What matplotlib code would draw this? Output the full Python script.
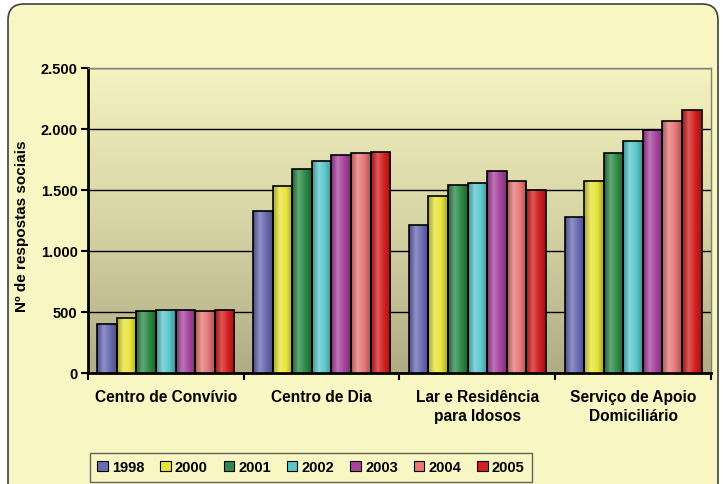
import numpy as np
import matplotlib.pyplot as plt
from matplotlib.colors import LinearSegmentedColormap, to_rgb
from matplotlib.patches import FancyBboxPatch, Patch

plt.rcParams['font.family'] = ['Liberation Sans', 'DejaVu Sans']

# dados
categorias = ["Centro de Convívio", "Centro de Dia",
              "Lar e Residência\npara Idosos", "Serviço de Apoio\nDomiciliário"]
anos = ["1998", "2000", "2001", "2002", "2003", "2004", "2005"]
v1998 = [405, 1326, 1209, 1280]
v2000 = [453, 1532, 1453, 1570]
v2001 = [508, 1671, 1543, 1801]
v2002 = [519, 1738, 1557, 1901]
v2003 = [519, 1787, 1652, 1994]
v2004 = [508, 1799, 1570, 2062]
v2005 = [519, 1809, 1500, 2154]
series = [v1998, v2000, v2001, v2002, v2003, v2004, v2005]
cores = ["#6B6BB5", "#E8E43A", "#2E8B47", "#5BC8CC", "#A844A0", "#E87878", "#D42020"]
yticks = [0, 500, 1000, 1500, 2000, 2500]
ytick_labels = ["0", "500", "1.000", "1.500", "2.000", "2.500"]

fundo = "#F8F6C2"

fig = plt.figure(figsize=(7.27, 4.85), dpi=100, facecolor="white")

# moldura arredondada
moldura = FancyBboxPatch((0.08, -0.5), 7.10, 5.30,
                         boxstyle="round,pad=0,rounding_size=0.16",
                         transform=fig.dpi_scale_trans,
                         facecolor=fundo, edgecolor="#404040", lw=1.2, zorder=-10)
fig.add_artist(moldura)

ax = fig.add_axes([0.121, 0.229, 0.857, 0.629])
ax.set_facecolor("none")

# fundo em gradiente da área do gráfico
grad_bg = LinearSegmentedColormap.from_list("bg", ["#B0AD86", "#D7D4A6", "#F5F3C0"])
ax.imshow(np.linspace(0, 1, 256).reshape(-1, 1), extent=(-0.5, 3.5, 0, 2500),
          origin="lower", aspect="auto", cmap=grad_bg, zorder=0)

n = len(series)
w = 0.88 / n
x = np.arange(len(categorias))
grad = np.linspace(0, 1, 64).reshape(1, -1)

for j, (vals, cor) in enumerate(zip(series, cores)):
    pos = x + (j - (n - 1) / 2) * w
    base = np.array(to_rgb(cor))
    escuro = base * 0.72
    claro = np.clip(base + (1 - base) * 0.25, 0, 1)
    cmap = LinearSegmentedColormap.from_list("b%d" % j, [escuro, claro, base, escuro])
    bars = ax.bar(pos, vals, w, facecolor="none", edgecolor="black", lw=1.2, zorder=4)
    for b in bars:
        x0 = b.get_x()
        im = ax.imshow(grad, extent=(x0, x0 + b.get_width(), 0, b.get_height()),
                       aspect="auto", cmap=cmap, zorder=3)
        im.set_clip_path(b)

ax.set_xlim(-0.5, 3.5)
ax.set_ylim(0, 2500)

ax.set_yticks(yticks)
ax.set_yticklabels(ytick_labels, fontsize=10.5, fontweight="bold")
ax.yaxis.grid(True, color="black", lw=1, zorder=1)
ax.set_axisbelow(True)
ax.tick_params(axis="y", direction="out", length=5, width=1.5, pad=2.5)

ax.set_xticks([-0.5, 0.5, 1.5, 2.5, 3.5])
ax.set_xticklabels([])
ax.tick_params(axis="x", which="major", direction="out", length=5, width=1.5)
ax.set_xticks(x, minor=True)
ax.set_xticklabels(categorias, minor=True, fontsize=11.2, fontweight="bold",
                   multialignment="center", linespacing=1.35)
ax.tick_params(axis="x", which="minor", length=0, pad=11.5)

for s in ["left", "bottom"]:
    ax.spines[s].set_color("black")
    ax.spines[s].set_linewidth(2)
for s in ["top", "right"]:
    ax.spines[s].set_color("#808080")
    ax.spines[s].set_linewidth(1)

ax.set_ylabel("Nº de respostas sociais", fontsize=11, fontweight="bold")
ax.yaxis.set_label_coords(-0.095, 0.485)

handles = [Patch(facecolor=c, edgecolor="black", lw=0.8) for c in cores]
leg = fig.legend(handles, anos, ncol=7, loc="upper left",
                 bbox_to_anchor=(90 / 727, 1 - 454 / 485),
                 prop={"size": 10.5, "weight": "bold"},
                 handlelength=0.7, handleheight=0.7, handletextpad=0.3,
                 columnspacing=1.1, borderpad=0.5, borderaxespad=0,
                 fancybox=False, frameon=True)
leg.get_frame().set_facecolor(fundo)
leg.get_frame().set_edgecolor("#404040")
leg.get_frame().set_linewidth(1)

fig.savefig("out.png", dpi=100)
